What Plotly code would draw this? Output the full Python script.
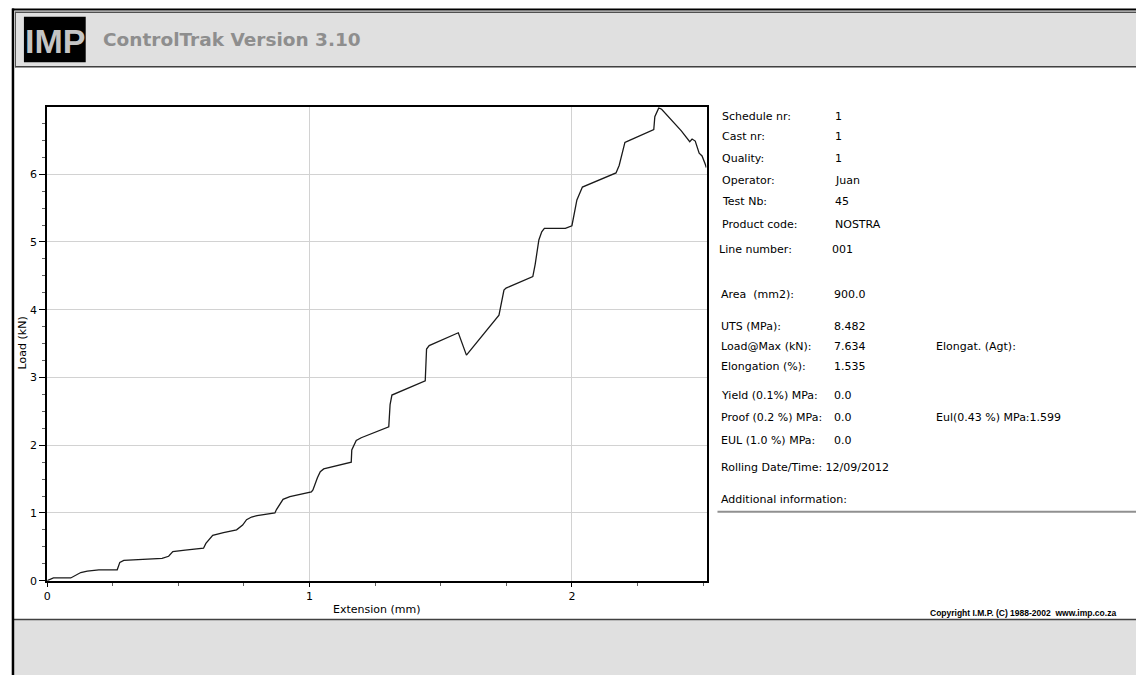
import plotly.graph_objects as go

# ---------------- data ----------------
extension_mm = [0.000, 0.010, 0.024, 0.090, 0.109, 0.128, 0.153, 0.197, 0.267, 0.272,
                0.277, 0.292, 0.368, 0.438, 0.463, 0.479, 0.526, 0.596, 0.605, 0.615,
                0.631, 0.672, 0.722, 0.745, 0.760, 0.779, 0.800, 0.868, 0.874, 0.899,
                0.925, 1.007, 1.013, 1.030, 1.041, 1.054, 1.159, 1.161, 1.178, 1.197,
                1.302, 1.307, 1.314, 1.441, 1.443, 1.446, 1.456, 1.567, 1.598, 1.722,
                1.741, 1.749, 1.851, 1.860, 1.874, 1.885, 1.895, 1.975, 2.000, 2.019,
                2.040, 2.168, 2.180, 2.202, 2.213, 2.312, 2.316, 2.331, 2.342, 2.380,
                2.417, 2.449, 2.458, 2.470, 2.485, 2.496, 2.502, 2.509, 2.512]
load_kN = [0.00, 0.02, 0.04, 0.04, 0.08, 0.12, 0.14, 0.16, 0.16, 0.22,
           0.27, 0.30, 0.32, 0.33, 0.36, 0.43, 0.45, 0.48, 0.55, 0.60,
           0.67, 0.71, 0.75, 0.82, 0.90, 0.94, 0.96, 1.00, 1.05, 1.20,
           1.24, 1.31, 1.34, 1.52, 1.61, 1.65, 1.75, 1.93, 2.07, 2.11,
           2.27, 2.60, 2.74, 2.95, 3.16, 3.42, 3.47, 3.66, 3.33, 3.92,
           4.29, 4.32, 4.49, 4.67, 5.03, 5.15, 5.20, 5.20, 5.24, 5.62,
           5.81, 6.02, 6.13, 6.47, 6.49, 6.66, 6.85, 6.98, 6.96, 6.80,
           6.64, 6.48, 6.52, 6.49, 6.31, 6.27, 6.22, 6.14, 6.10]

x_range = [0, 2.513]
y_range = [0, 6.99]

info_left = [
    ("Schedule nr:", "1"), ("Cast nr:", "1"), ("Quality:", "1"), ("Operator:", "Juan"),
    ("Test Nb:", "45"), ("Product code:", "NOSTRA"),
]
info_results = [
    ("Area  (mm2):", "900.0"), ("UTS (MPa):", "8.482"), ("Load@Max (kN):", "7.634"),
    ("Elongation (%):", "1.535"), ("Yield (0.1%) MPa:", "0.0"), ("Proof (0.2 %) MPa:", "0.0"),
    ("EUL (1.0 %) MPa:", "0.0"),
]

W, H = 1136, 682
def px(x): return min(max(x / W, 0), 1)
def py(y): return min(max(1 - y / H, 0), 1)

FONT = "DejaVu Sans, Verdana, sans-serif"

fig = go.Figure()
fig.add_trace(go.Scatter(x=extension_mm, y=load_kN, mode="lines",
                         line=dict(color="#1a1a1a", width=1.3), showlegend=False,
                         hoverinfo="x+y"))

axis_common = dict(showline=True, linecolor="black", linewidth=2, mirror=True,
                   showgrid=True, gridcolor="#d2d2d2", gridwidth=1, zeroline=False,
                   ticks="outside", tickcolor="black", tickfont=dict(family=FONT, size=11, color="black"))

fig.update_xaxes(range=x_range, domain=[px(43.3), px(705)], dtick=1, tick0=0, ticklen=4,
                 minor=dict(dtick=0.25, tick0=0, ticks="outside", ticklen=3, tickcolor="#606060", showgrid=False),
                 **axis_common)
fig.update_yaxes(range=y_range, domain=[py(586.7), py(108.3)], dtick=1, tick0=0, ticklen=6,
                 minor=dict(dtick=0.25, tick0=0, ticks="outside", ticklen=3, tickcolor="#606060", showgrid=False),
                 **axis_common)

shapes = []
def rect(x0, y0, x1, y1, fill):
    shapes.append(dict(type="rect", xref="paper", yref="paper", x0=px(x0), x1=px(x1), y0=py(y1), y1=py(y0),
                       fillcolor=fill, line=dict(width=0), layer="above"))
def hline(x0, x1, y, color, width):
    shapes.append(dict(type="line", xref="paper", yref="paper", x0=px(x0), x1=px(x1), y0=py(y), y1=py(y),
                       line=dict(color=color, width=width), layer="above"))
def vline(x, y0, y1, color, width):
    shapes.append(dict(type="line", xref="paper", yref="paper", x0=px(x), x1=px(x), y0=py(y0), y1=py(y1),
                       line=dict(color=color, width=width), layer="above"))

# header band
rect(11, 12, W, 68, "#e0e0e0")
hline(11, W, 12.5, "#505050", 1.5)
hline(11, W, 67.5, "#404040", 1.5)
vline(11.5, 12, 68, "#505050", 1)
# logo box
rect(20, 17, 82, 63, "black")
# footer band
rect(10, 626, W, H, "#e0e0e0")
hline(10, W, 626, "#404040", 1.5)
# outer frame: top and left lines
hline(8, W, 9.5, "black", 2)
vline(9, 8.5, H, "black", 2.5)
# separator under "Additional information"
hline(716, W, 517, "#909090", 2)

ann = []
def text(x, y, s, size=11, color="black", family=FONT, xanchor="left", angle=0):
    ann.append(dict(xref="paper", yref="paper", x=px(x), y=py(y), text=s, showarrow=False,
                    xanchor=xanchor, yanchor="middle", textangle=angle,
                    font=dict(family=family, size=size, color=color)))

# header
text(51, 41, "<b>IMP</b>", size=34, color="#c4c4c4", family="Liberation Sans, Arial, sans-serif", xanchor="center")
text(97, 40, "<b>ControlTrak Version 3.10</b>", size=18.5, color="#8e8e8e", family="DejaVu Sans, Verdana, sans-serif")

# axis titles
text(19, 346, "Load (kN)", angle=-90, xanchor="center")
text(374, 616, "Extension (mm)", xanchor="center")

# info panel
ys_left = [118, 138, 160, 182, 204, 227]
for (lab, val), yy in zip(info_left, ys_left):
    text(719, yy, lab)
    text(832, yy, val)
text(716, 252, "Line number:")
text(829, 252, "001")

ys_res = [298, 330, 350, 370, 400, 422, 445]
for (lab, val), yy in zip(info_results, ys_res):
    text(718, yy, lab)
    text(831, yy, val)
text(933, 350, "Elongat. (Agt):")
text(933, 422, "Eul(0.43 %) MPa:1.599")
text(718, 472, "Rolling Date/Time: 12/09/2012")
text(718, 505, "Additional information:")

# copyright
text(1118, 619, "<b>Copyright I.M.P. (C) 1988-2002  www.imp.co.za</b>", size=8.5,
     family="Liberation Sans, Arial, sans-serif", xanchor="right")

fig.update_layout(width=W, height=H, margin=dict(l=0, r=0, t=0, b=0, pad=0),
                  paper_bgcolor="white", plot_bgcolor="white",
                  shapes=shapes, annotations=ann, showlegend=False)

fig.write_html("out.html", config={"displayModeBar": False},
               post_script="document.body.style.margin='0';document.body.style.overflow='hidden';")
